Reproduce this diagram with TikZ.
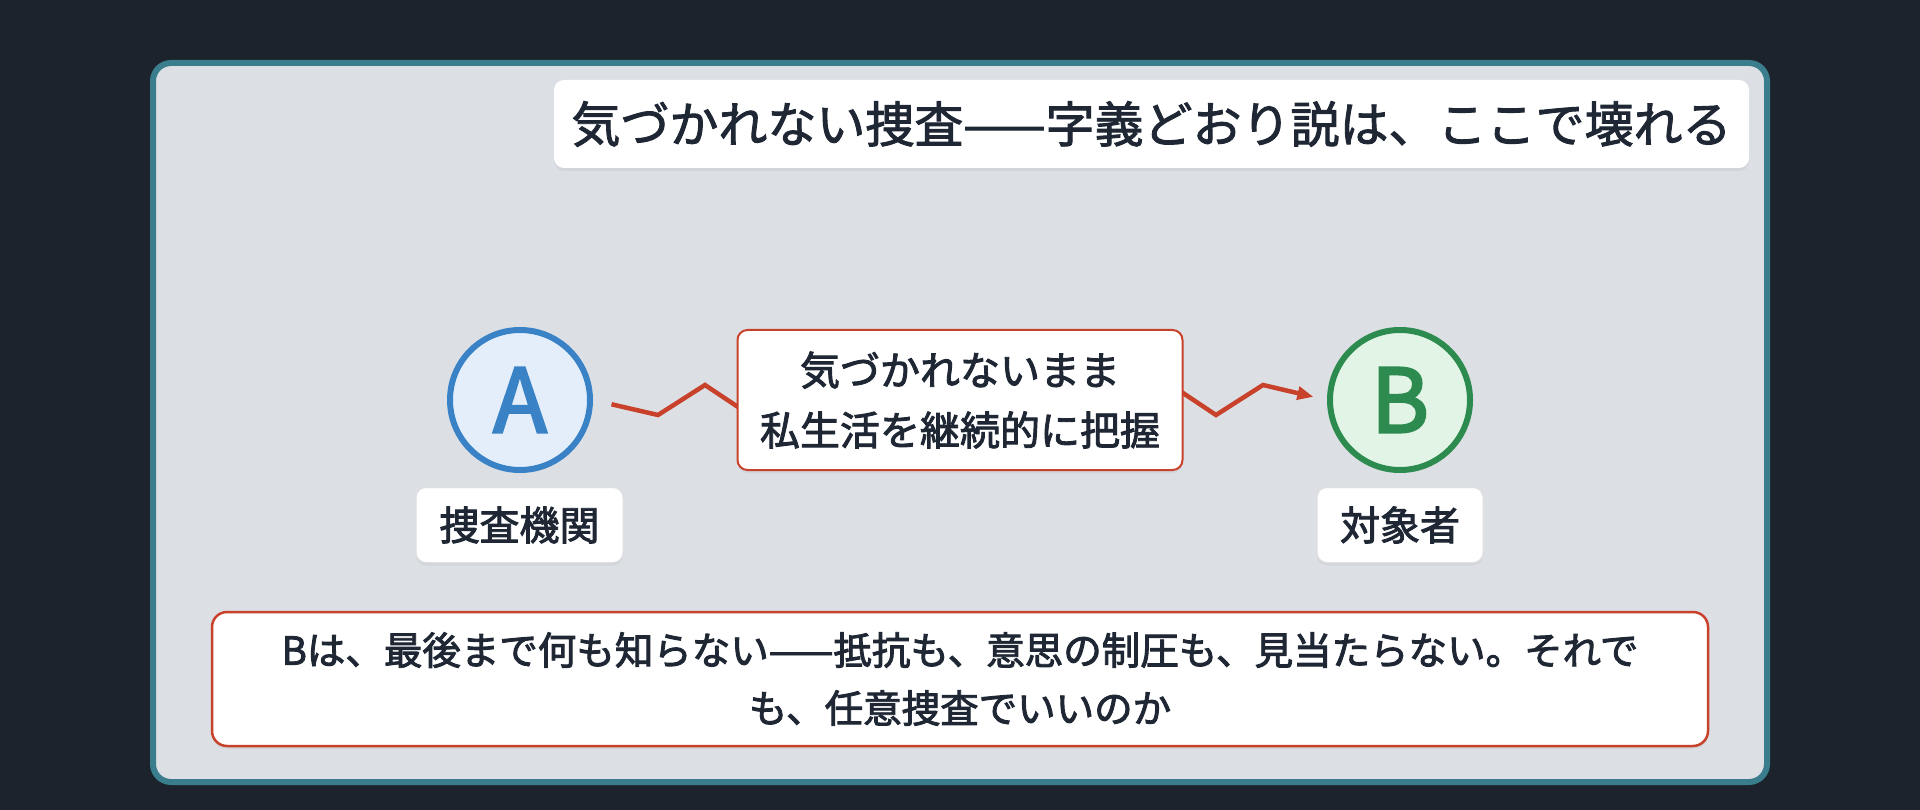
\documentclass[tikz,border=0pt]{standalone}
\usepackage{fontspec}
\setmainfont{Noto Sans CJK JP}
\usetikzlibrary{arrows.meta,backgrounds,shadows}
\definecolor{night}{HTML}{1D232D}
\definecolor{paper}{HTML}{DCE0E5}
\definecolor{teal}{HTML}{3A7D8C}
\definecolor{alarm}{HTML}{C8412B}
\definecolor{ink}{HTML}{1E2733}
\definecolor{agency}{HTML}{3A82C6}
\definecolor{agencyfill}{HTML}{E3EEFA}
\definecolor{target}{HTML}{2E8B4F}
\definecolor{targetfill}{HTML}{E2F4E6}
\begin{document}
\begin{tikzpicture}[x=1pt,y=-1pt,>={Triangle[length=16pt,width=13pt]},text=ink,
    thicken/.style={execute at begin node={\special{pdf:literal direct 2 Tr #1 w}}},
    soft/.style={drop shadow={opacity=0.10,shadow xshift=0pt,shadow yshift=-3pt}},
    card/.style={soft,thicken=0.9,fill=white,rounded corners=10pt,inner sep=0pt,align=center},
    party/.style={soft,thicken=2.6,circle,line width=6pt,minimum size=140pt,inner sep=0pt,font=\fontsize{88}{88}\selectfont},
    zig/.style={alarm,line width=4.5pt}]
            \begin{scope}[on background layer]
            \fill[night] (0,0) rectangle (1920,810);
            \draw[teal,fill=paper,line width=6pt,rounded corners=18pt] (153,63) rectangle (1767,782);
            \end{scope}
            \node[card,minimum width=1195pt,minimum height=88pt,font=\fontsize{49}{60}\selectfont] (title) at (1151.5,124) {気づかれない捜査——字義どおり説は、ここで壊れる};
            \node[party,draw=agency,fill=agencyfill,text=agency] (A) at (520,400) {A};
            \node[party,draw=target,fill=targetfill,text=target] (B) at (1400,400) {B};
            \node[card,draw=gray!25,line width=1pt,minimum width=207pt,minimum height=75pt,font=\fontsize{40}{48}\selectfont] (agencyLabel) at (519.5,525) {捜査機関};
            \node[card,draw=gray!25,line width=1pt,minimum width=166pt,minimum height=75pt,font=\fontsize{40}{48}\selectfont] (targetLabel) at (1400,525) {対象者};
            \node[card,draw=alarm,line width=2pt,minimum width=445pt,minimum height=140pt,font=\fontsize{40}{60}\selectfont] (grasp) at (960,400) {気づかれないまま\\私生活を継続的に把握};
            \node[card,draw=alarm,line width=2.5pt,rounded corners=15pt,minimum width=1496pt,minimum height=134pt,font=\fontsize{38.5}{58}\selectfont] (question) at (960,679) {Bは、最後まで何も知らない——抵抗も、意思の制圧も、見当たらない。それで\\も、任意捜査でいいのか};
            \begin{scope}[on background layer]
            \draw[zig,->,shorten <=19pt,shorten >=14pt] (A.east)--(658,415)--(705,385)--(750,415)--(grasp.center)--(1171,385)--(1216,415)--(1263,385)--(B.west);
            \end{scope}
        \end{tikzpicture}
\end{document}
